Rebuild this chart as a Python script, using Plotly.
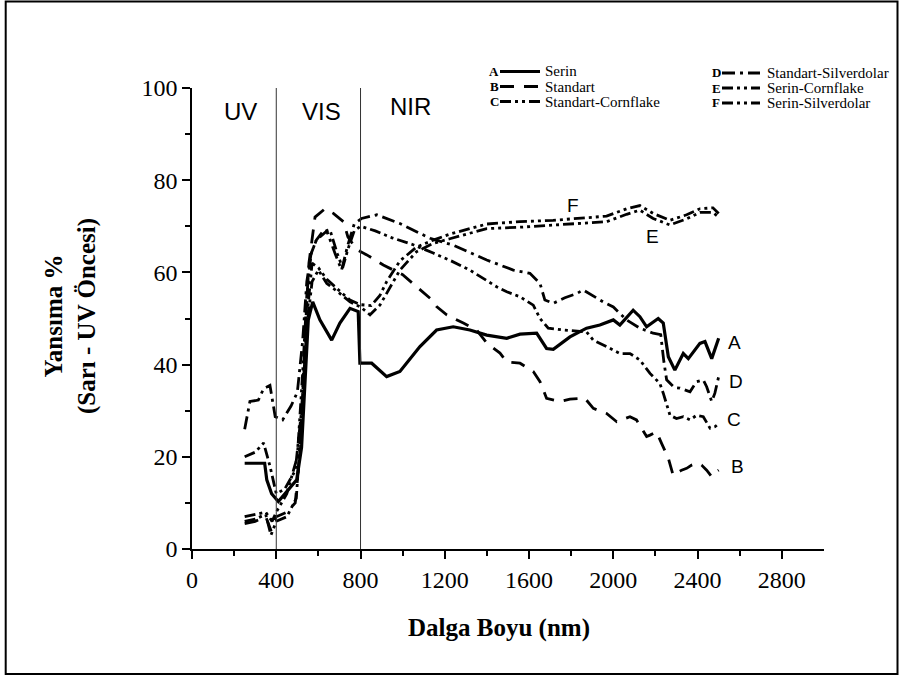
import plotly.graph_objects as go

# ---------------- data ----------------
A_x = [250, 345, 355, 378, 410, 450, 497, 520, 536, 552, 573, 607, 663, 702, 750, 789, 797, 853, 924, 987, 1082, 1161, 1240, 1319, 1399, 1494, 1557, 1636, 1683, 1715, 1794, 1873, 1936, 2000, 2031, 2094, 2126, 2158, 2213, 2237, 2261, 2292, 2332, 2356, 2411, 2435, 2467, 2500]
A_y = [18.6, 18.6, 15, 12, 10.3, 12.4, 15, 22, 36.7, 49.7, 53.6, 49.7, 45.3, 49, 52.2, 51.5, 40.3, 40.3, 37.4, 38.5, 43.9, 47.5, 48.2, 47.5, 46.4, 45.7, 46.6, 46.8, 43.5, 43.3, 46, 47.9, 48.6, 49.7, 48.6, 51.8, 50.4, 48.2, 50, 49, 41.7, 38.8, 42.4, 41.3, 44.6, 45, 41.3, 45.7]

B_x = [250, 300, 350, 375, 400, 450, 490, 515, 535, 555, 584, 631, 671, 719, 740, 782, 830, 860, 908, 1000, 1058, 1130, 1161, 1209, 1288, 1351, 1399, 1462, 1494, 1557, 1620, 1652, 1683, 1747, 1794, 1865, 1905, 1968, 2016, 2079, 2110, 2158, 2174, 2205, 2229, 2261, 2284, 2324, 2348, 2372, 2395, 2419, 2443, 2467, 2490, 2500]
B_y = [5.5, 6, 7, 4, 7, 8, 10, 22, 45, 62, 72, 73.8, 72.8, 71, 67.7, 64.9, 63.8, 63, 61.6, 59.5, 57.3, 54.4, 52.6, 50.8, 49, 47.5, 44.7, 42.5, 40.6, 40.3, 38.5, 36.3, 32.7, 32, 32.5, 32.7, 30.5, 29.4, 27.6, 28.7, 28, 24.4, 24.7, 25.4, 22.9, 19.7, 16, 17.1, 17.5, 18.2, 18.6, 18.2, 17.1, 15.7, 16.8, 17.1]

C_x = [250, 300, 350, 380, 400, 450, 500, 525, 545, 565, 590, 620, 655, 690, 715, 740, 770, 800, 870, 950, 1050, 1145, 1230, 1319, 1446, 1494, 1557, 1620, 1652, 1691, 1763, 1873, 1905, 1968, 2031, 2079, 2126, 2174, 2221, 2237, 2253, 2269, 2300, 2332, 2364, 2395, 2427, 2459, 2482, 2500]
C_y = [7, 7.5, 8, 6, 8, 12, 20, 38, 55, 64, 67, 68.8, 69.2, 64, 61, 65, 69, 70, 69, 67.5, 66, 64.2, 62.5, 60.5, 56.9, 55.8, 54.7, 52.9, 50, 47.9, 47.5, 47.1, 45.3, 43.9, 42.4, 42.4, 41, 38.1, 35.9, 33.8, 31.6, 29, 28.3, 28.7, 28, 29, 28.7, 26.2, 26.5, 27.2]

D_x = [250, 275, 315, 340, 370, 395, 430, 470, 500, 525, 545, 565, 590, 640, 680, 710, 740, 770, 805, 877, 987, 1130, 1240, 1399, 1525, 1604, 1652, 1675, 1715, 1770, 1826, 1857, 1952, 2000, 2063, 2126, 2189, 2225, 2240, 2253, 2290, 2316, 2364, 2395, 2427, 2443, 2467, 2482, 2500]
D_y = [26, 32, 32.3, 34.8, 35.5, 28.7, 28, 31, 34, 45, 58, 64, 67, 69, 64, 60.5, 66, 70.5, 71.7, 72.5, 70.6, 67.4, 65.9, 62.7, 60.5, 59.8, 57.6, 54, 53.3, 54.5, 55.4, 56.2, 53.6, 52.5, 49.7, 47.9, 46.8, 46.5, 40.6, 36.7, 35, 34.9, 34.1, 36.3, 36.7, 35.2, 32, 33.8, 37.4]

E_x = [250, 300, 340, 370, 400, 440, 490, 520, 545, 570, 600, 640, 700, 750, 800, 845, 892, 924, 987, 1066, 1145, 1224, 1399, 1557, 1714, 1873, 1968, 2063, 2126, 2189, 2268, 2348, 2411, 2473, 2500]
E_y = [20, 21, 23, 18, 12, 13, 17, 30, 48, 58, 60.5, 57.6, 55.5, 53.6, 52.5, 50.8, 52.9, 55.5, 60.5, 64.5, 66.3, 67.3, 69.5, 69.8, 70.2, 70.6, 71, 72.6, 73.5, 71.7, 70.3, 71.6, 73, 73, 72]

F_x = [250, 300, 350, 375, 400, 450, 495, 520, 545, 570, 600, 640, 700, 750, 800, 850, 892, 924, 987, 1066, 1145, 1224, 1399, 1557, 1714, 1873, 1968, 2063, 2126, 2189, 2268, 2348, 2411, 2473, 2500]
F_y = [6, 6.5, 7.5, 3, 6, 7, 11, 28, 50, 62, 61, 58.5, 56, 54, 53, 52.8, 55, 58, 62.5, 65.5, 67, 68.3, 70.5, 71, 71.3, 71.8, 72.2, 73.8, 74.5, 72.8, 71.3, 72.5, 73.8, 74, 72.8]

x_ticks = [0, 400, 800, 1200, 1600, 2000, 2400, 2800]
y_ticks = [0, 20, 40, 60, 80, 100]
region_names = ["UV", "VIS", "NIR"]
region_pos = [(228, 95), (617, 95), (1035, 96)]
region_bounds = [400, 800]
curve_letters = ["F", "E", "A", "D", "C", "B"]
curve_label_pos = [(1808, 74.6), (2188, 67.7), (2577, 44.7), (2582, 36.4), (2572, 28.2), (2591, 17.8)]
legend_letters = ["A", "B", "C", "D", "E", "F"]
legend_names = ["Serin", "Standart", "Standart-Cornflake", "Standart-Silverdolar", "Serin-Cornflake", "Serin-Silverdolar"]

# ---------------- styles ----------------
DASH_B = "14px,10px"
DASH_C = "11px,4px,3px,4px,3px,4px"
DASH_D = "13px,5px,3px,5px"
DASH_E = "11px,4px,3px,4px,3px,4px"
DASH_F = "11px,4px,3px,4px,3px,4px"
styles = {
    "A": dict(color="black", width=3.2, dash="solid"),
    "B": dict(color="black", width=2.8, dash=DASH_B),
    "C": dict(color="black", width=2.8, dash=DASH_C),
    "D": dict(color="black", width=2.8, dash=DASH_D),
    "E": dict(color="black", width=2.8, dash=DASH_E),
    "F": dict(color="black", width=2.8, dash=DASH_F),
}
series = {"A": (A_x, A_y), "B": (B_x, B_y), "C": (C_x, C_y),
          "D": (D_x, D_y), "E": (E_x, E_y), "F": (F_x, F_y)}

SERIF = "Liberation Serif"
SANS = "Liberation Sans"

fig = go.Figure()
for k in ["F", "E", "D", "C", "B", "A"]:
    xs, ys = series[k]
    fig.add_trace(go.Scatter(x=xs, y=ys, mode="lines", line=styles[k],
                             showlegend=False, hoverinfo="skip"))

# plot area in pixels
L, R, T, B = 192, 824, 88, 549
W, H = 904, 677
def px(xp):
    return (xp - L) / (R - L)
def py(yp):
    return (B - yp) / (B - T)

shapes = []
for b in region_bounds:
    shapes.append(dict(type="line", xref="x", yref="y", x0=b, x1=b, y0=0, y1=100,
                       line=dict(color="#333333", width=1)))
shapes.append(dict(type="rect", xref="paper", yref="paper",
                   x0=px(5.7), x1=px(897.5), y0=py(674), y1=py(1.5),
                   line=dict(color="black", width=2)))

annotations = []
for name, (xv, yv) in zip(region_names, region_pos):
    annotations.append(dict(x=xv, y=yv, xref="x", yref="y", text=name, showarrow=False,
                            xanchor="center", yanchor="middle",
                            font=dict(family=SANS, size=24, color="black")))
for name, (xv, yv) in zip(curve_letters, curve_label_pos):
    annotations.append(dict(x=xv, y=yv, xref="x", yref="y", text=name, showarrow=False,
                            xanchor="center", yanchor="middle",
                            font=dict(family=SANS, size=19, color="black")))

# custom legend
leg_cols = [(494, 500, 540, 543), (716, 722, 760, 765)]
leg_rows = [[71.5, 86.5, 101.5], [73, 88, 103]]
for i, (let, nm) in enumerate(zip(legend_letters, legend_names)):
    c = i // 3
    r = i % 3
    lx, l0, l1, tx = leg_cols[c]
    yy = leg_rows[c][r]
    st = styles[let]
    shapes.append(dict(type="line", xref="paper", yref="paper",
                       x0=px(l0), x1=px(l1), y0=py(yy), y1=py(yy),
                       line=dict(color="black", width=st["width"], dash=st["dash"])))
    annotations.append(dict(x=px(lx), y=py(yy), xref="paper", yref="paper",
                            text="<b>" + let + "</b>", showarrow=False,
                            xanchor="center", yanchor="middle",
                            font=dict(family=SERIF, size=13, color="black")))
    annotations.append(dict(x=px(tx), y=py(yy), xref="paper", yref="paper",
                            text=nm, showarrow=False, xanchor="left", yanchor="middle",
                            font=dict(family=SERIF, size=15, color="black")))

# axis titles
annotations.append(dict(x=px(499), y=py(628), xref="paper", yref="paper",
                        text="<b>Dalga Boyu (nm)</b>", showarrow=False,
                        xanchor="center", yanchor="middle",
                        font=dict(family=SERIF, size=25, color="black")))
annotations.append(dict(x=px(70), y=py(316), xref="paper", yref="paper",
                        text="<b>Yansıma %</b><br><b>(Sarı - UV Öncesi)</b>", showarrow=False,
                        textangle=-90, xanchor="center", yanchor="middle",
                        font=dict(family=SERIF, size=25, color="black")))

fig.update_layout(
    width=W, height=H,
    margin=dict(l=L, r=W - R, t=T, b=H - B, pad=0),
    paper_bgcolor="white", plot_bgcolor="white",
    showlegend=False,
    shapes=shapes, annotations=annotations,
)
fig.update_xaxes(range=[0, 3000], tickvals=x_ticks, ticktext=[str(v) for v in x_ticks],
                 ticks="outside", ticklen=8, tickwidth=1.5, tickcolor="black",
                 minor=dict(tickvals=[200, 600, 1000, 1400, 1800, 2200, 2600], ticks="outside",
                            ticklen=5, tickwidth=1.5, tickcolor="black"),
                 showline=True, linecolor="black", linewidth=1.5, showgrid=False, zeroline=False,
                 tickfont=dict(family=SERIF, size=24, color="black"))
fig.update_yaxes(range=[0, 100], tickvals=y_ticks, ticktext=[str(v) for v in y_ticks],
                 ticks="outside", ticklen=8, tickwidth=1.5, tickcolor="black",
                 minor=dict(tickvals=[10, 30, 50, 70, 90], ticks="outside",
                            ticklen=5, tickwidth=1.5, tickcolor="black"),
                 showline=True, linecolor="black", linewidth=1.5, showgrid=False, zeroline=False,
                 tickfont=dict(family=SERIF, size=24, color="black"))

fig.write_html("out.html")
